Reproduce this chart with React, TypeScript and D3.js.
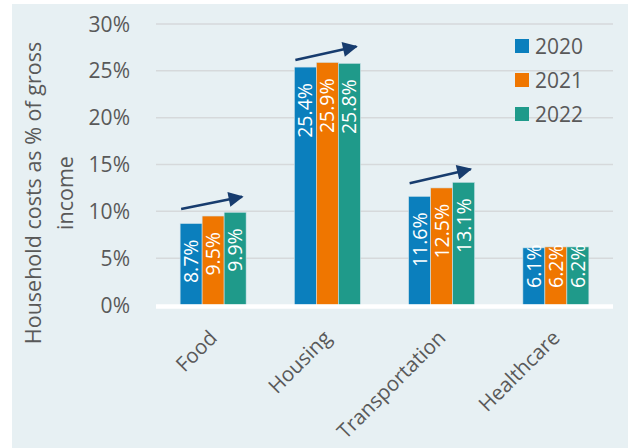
import React, { useRef, useEffect } from 'react';
import * as d3 from 'd3';

const categories = ['Food', 'Housing', 'Transportation', 'Healthcare'];
const years = ['2020', '2021', '2022'];
const values2020 = [8.7, 25.4, 11.6, 6.1];
const values2021 = [9.5, 25.9, 12.5, 6.2];
const values2022 = [9.9, 25.8, 13.1, 6.2];
const yTicks = [0, 5, 10, 15, 20, 25, 30];
// trend arrows drawn above the groups (start / tip level in %)
const arrowCats = ['Food', 'Housing', 'Transportation'];
const arrowStart = [10.25, 26.15, 13.0];
const arrowEnd = [11.55, 27.6, 14.5];

const colors = ['#0b7fbd', '#ef7600', '#1f9a8a'];
const textColor = '#595959';
const font = '"Open Sans", sans-serif';

export default function App() {
    const labelsRef = useRef<SVGGElement>(null);

    const width = 628;
    const height = 448;
    const margin = { top: 24, right: 15, bottom: 143, left: 156 };

    const x = d3.scaleBand().domain(categories).range([margin.left, width - margin.right]);
    const x1 = d3.scaleBand().domain(years).range([0, 66]);
    const y = d3.scaleLinear().domain([0, 30]).range([height - margin.bottom, margin.top]);
    const series = [values2020, values2021, values2022];

    useEffect(() => {
        if (!labelsRef.current) return;
        const g = d3.select(labelsRef.current);
        g.selectAll('*').remove();
        const base = y(0);
        series.forEach((vals, si) => {
            vals.forEach((v, ci) => {
                const cx = x(categories[ci])! + x.bandwidth() / 2 - 33 + x1(years[si])! + x1.bandwidth() / 2;
                const t = g.append('text')
                    .attr('fill', 'white')
                    .attr('font-family', font)
                    .attr('font-size', 19.5)
                    .attr('dy', '0.36em')
                    .text(v.toFixed(1) + '%');
                const len = (t.node() as SVGTextElement).getComputedTextLength();
                let yEnd = y(v) + 16;
                if (yEnd + len > base - 17) yEnd = base - 17 - len;
                t.attr('text-anchor', 'end')
                    .attr('transform', `translate(${cx},${yEnd}) rotate(-90)`);
            });
        });
    }, []);

    const groupLeft = (c: string) => x(c)! + x.bandwidth() / 2 - 33;

    return (
        <svg width={width} height={height} style={{ position: 'absolute', left: 0, top: 0 }}>
            <defs>
                <marker id="head" viewBox="0 0 10 10" refX="9" refY="5" markerWidth="7" markerHeight="6" markerUnits="strokeWidth" orient="auto">
                    <path d="M0,0 L10,5 L0,10 Z" fill="#173c6e" />
                </marker>
            </defs>
            <rect width={width} height={height} fill="white" />
            <rect x={12} y={4} width={width - 12} height={height - 4} fill="#e7f0f3" />

            {yTicks.filter(t => t > 0).map(t => (
                <line key={t} x1={margin.left} x2={width - margin.right} y1={y(t)} y2={y(t)} stroke="#d6d9db" strokeWidth={1.5} />
            ))}
            {yTicks.map(t => (
                <text key={t} x={130} y={y(t)} dy="0.36em" textAnchor="end" fontFamily={font} fontSize={21} fill={textColor}>{t}%</text>
            ))}

            <g fontFamily={font} fontSize={21.5} fill={textColor} textAnchor="middle">
                <text transform={`translate(41,193) rotate(-90)`}>Household costs as % of gross</text>
                <text transform={`translate(73,193) rotate(-90)`}>income</text>
            </g>

            {series.map((vals, si) => vals.map((v, ci) => (
                <rect key={`${si}-${ci}`}
                    x={groupLeft(categories[ci]) + x1(years[si])!}
                    y={y(v)}
                    width={x1.bandwidth()}
                    height={y(0) - y(v)}
                    fill={colors[si]}
                    stroke="#cfe3ea" strokeWidth={0.6} />
            )))}

            <line x1={margin.left} x2={width - margin.right} y1={y(0) + 1.5} y2={y(0) + 1.5} stroke="white" strokeWidth={4.5} />

            <g ref={labelsRef} />

            {arrowCats.map((c, i) => (
                <line key={c} x1={groupLeft(c) + 1} y1={y(arrowStart[i])} x2={groupLeft(c) + 62} y2={y(arrowEnd[i])}
                    stroke="#173c6e" strokeWidth={2.5} markerEnd="url(#head)" />
            ))}

            {categories.map(c => (
                <text key={c} transform={`translate(${x(c)! + x.bandwidth() / 2 - 5},329) rotate(-45)`}
                    textAnchor="end" dy="0.7em" fontFamily={font} fontSize={20.5} fill={textColor}>{c}</text>
            ))}

            {years.map((yr, i) => (
                <g key={yr} transform={`translate(515,${46 + i * 34})`}>
                    <rect x={0} y={-7} width={14} height={14} fill={colors[i]} />
                    <text x={20} dy="0.36em" fontFamily={font} fontSize={21} fill={textColor}>{yr}</text>
                </g>
            ))}
        </svg>
    );
}
